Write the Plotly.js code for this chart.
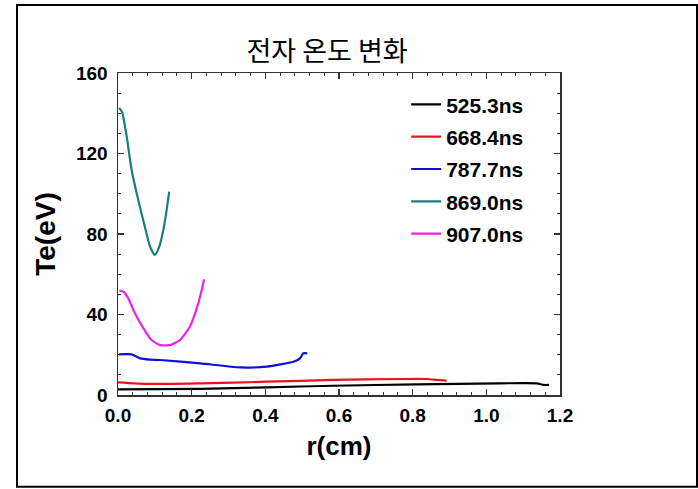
<!DOCTYPE html>
<html><head><meta charset="utf-8">
<script src="https://cdn.plot.ly/plotly-3.0.1.min.js"></script>
<style>body{margin:0;background:#fff}#plot{width:698px;height:489px}</style>
</head><body><div id="plot"></div>
<script>
const seriesNames = ['525.3ns', '668.4ns', '787.7ns', '869.0ns', '907.0ns'];
const seriesColors = ['#000000', '#e8161b', '#1010d0', '#1a7f7a', '#f020f0'];

const r525 = [0.0, 0.223, 0.404, 0.585, 0.811, 1.037, 1.137, 1.155, 1.17];
const te525 = [2.8, 3.0, 3.8, 4.6, 5.3, 5.8, 5.8, 5.0, 5.0];

const r668 = [0.0, 0.087, 0.223, 0.404, 0.585, 0.766, 0.838, 0.865, 0.892];
const te668 = [6.3, 5.5, 5.8, 6.6, 7.5, 7.95, 7.95, 7.5, 7.1];

const r787 = [0.003, 0.037, 0.06, 0.087, 0.114, 0.223, 0.331, 0.404, 0.476, 0.494, 0.503, 0.514];
const te787 = [20.2, 20.2, 18.2, 17.6, 17.4, 15.7, 13.7, 14.1, 16.5, 18.2, 20.7, 20.7];

const r869 = [0.003, 0.011, 0.024, 0.037, 0.055, 0.073, 0.087, 0.1, 0.112, 0.123, 0.132, 0.139];
const te869 = [142.6, 140.6, 128, 111.8, 96.9, 83.6, 73.7, 69.6, 73.7, 82, 91.9, 101];

const r907 = [0.004, 0.015, 0.028, 0.046, 0.069, 0.091, 0.114, 0.141, 0.168, 0.195, 0.218, 0.234];
const te907 = [51.7, 51.3, 48, 40.6, 33.1, 27.3, 24.8, 24.8, 27.3, 33.9, 45.5, 57.5];

const xs = [r525, r668, r787, r869, r907];
const ys = [te525, te668, te787, te869, te907];

const traces = seriesNames.map((n, i) => ({
  x: xs[i], y: ys[i], name: n, type: 'scatter', mode: 'lines',
  legendgroup: 'g' + i,
  line: {color: seriesColors[i], width: 2.2, shape: 'spline', smoothing: 0.6}
}));

const axisCommon = {
  showgrid: false, zeroline: false, showline: true, linecolor: '#333', linewidth: 1.5,
  mirror: 'ticks', ticks: 'inside', ticklen: 6, tickwidth: 1.3, tickcolor: '#333',
  tickfont: {family: 'Liberation Sans, Arial', size: 19, color: '#000', weight: 'bold'}
};

const layout = {
  width: 698, height: 489,
  margin: {l: 118, r: 138, t: 73, b: 94},
  paper_bgcolor: '#fff', plot_bgcolor: '#fff',
  title: {text: '전자 온도 변화', font: {family: 'Noto Sans CJK KR', size: 27, color: '#000'},
          x: 0.473, xref: 'paper', xanchor: 'center', y: 0.894, yref: 'container', yanchor: 'middle'},
  xaxis: Object.assign({}, axisCommon, {
    range: [0, 1.2], dtick: 0.2, tickformat: '.1f', ticklabelstandoff: 3,
    minor: {dtick: 0.04, ticks: 'inside', ticklen: 3, tickwidth: 1, tickcolor: '#333'},
    title: {text: 'r(cm)', standoff: 11, font: {family: 'Liberation Sans, Arial', size: 26, color: '#000', weight: 'bold'}}
  }),
  yaxis: Object.assign({}, axisCommon, {
    range: [0, 160], dtick: 40, ticklabelstandoff: 5,
    minor: {dtick: 10, ticks: 'inside', ticklen: 3, tickwidth: 1, tickcolor: '#333'},
    title: {text: 'Te(eV)', standoff: 12, font: {family: 'Liberation Sans, Arial', size: 28, color: '#000', weight: 'bold'}}
  }),
  legend: {x: 0.652, y: 0.965, xanchor: 'left', yanchor: 'top', bgcolor: 'rgba(0,0,0,0)',
           tracegroupgap: 2,
           font: {family: 'Liberation Sans, Arial', size: 21, color: '#000', weight: 'bold'}},
  shapes: [{type: 'rect', xref: 'paper', yref: 'paper', x0: -0.2285, x1: 1.31, y0: -0.285, y1: 1.211,
            line: {color: '#000', width: 2}}]
};

Plotly.newPlot('plot', traces, layout, {displayModeBar: false, staticPlot: true});
</script></body></html>
